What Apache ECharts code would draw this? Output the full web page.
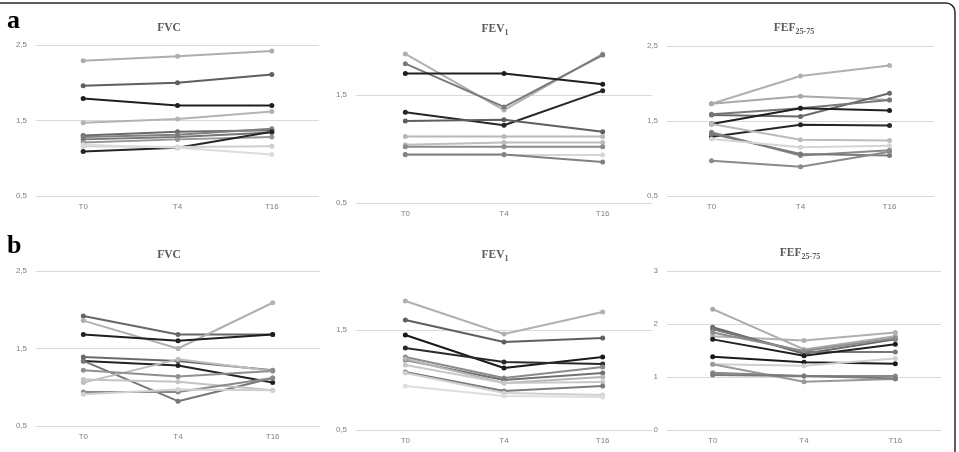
<!DOCTYPE html>
<html>
<head>
<meta charset="utf-8">
<script src="https://cdn.jsdelivr.net/npm/echarts@6/dist/echarts.min.js"></script>
<style>
html,body{margin:0;padding:0;background:#fff;}
#chart{width:959px;height:452px;}
</style>
</head>
<body>
<div id="chart"></div>
<script>
// ---------- DATA ----------
const categories = ['T0', 'T4', 'T16'];

// panel a
const aFVC = [
  [2.29, 2.35, 2.42],
  [1.96, 2.00, 2.11],
  [1.79, 1.70, 1.70],
  [1.47, 1.52, 1.62],
  [1.30, 1.35, 1.37],
  [1.28, 1.31, 1.39],
  [1.25, 1.28, 1.34],
  [1.21, 1.25, 1.28],
  [1.09, 1.14, 1.35],
  [1.16, 1.15, 1.16],
  [1.18, 1.14, 1.05]
];
const aFEV1 = [
  [1.88, 1.36, 1.88],
  [1.79, 1.39, 1.87],
  [1.70, 1.70, 1.60],
  [1.34, 1.22, 1.54],
  [1.26, 1.27, 1.16],
  [1.115, 1.115, 1.115],
  [1.04, 1.06, 1.06],
  [1.02, 1.02, 1.02],
  [0.945, 0.945, 0.945],
  [0.95, 0.95, 0.88]
];
const aFEF = [
  [1.73, 2.10, 2.24],
  [1.73, 1.83, 1.78],
  [1.58, 1.56, 1.87],
  [1.59, 1.67, 1.78],
  [1.46, 1.67, 1.64],
  [1.29, 1.45, 1.44],
  [1.46, 1.25, 1.24],
  [1.35, 1.04, 1.11],
  [1.33, 1.06, 1.04],
  [1.26, 1.15, 1.17],
  [0.97, 0.89, 1.09]
];

// panel b
const bFVC = [
  [1.92, 1.68, 1.68],
  [1.86, 1.50, 2.09],
  [1.68, 1.60, 1.68],
  [1.39, 1.34, 1.22],
  [1.34, 1.28, 1.06],
  [1.34, 0.82, 1.12],
  [1.06, 1.36, 1.21],
  [1.22, 1.14, 1.21],
  [1.10, 1.07, 0.96],
  [0.94, 0.94, 1.12],
  [0.91, 0.97, 0.96]
];
const bFEV1 = [
  [1.79, 1.46, 1.68],
  [1.60, 1.38, 1.42],
  [1.45, 1.12, 1.23],
  [1.32, 1.18, 1.16],
  [1.23, 1.02, 1.13],
  [1.20, 1.00, 1.07],
  [1.21, 0.97, 1.03],
  [1.15, 0.97, 0.98],
  [1.08, 0.89, 0.94],
  [1.07, 0.87, 0.85],
  [0.94, 0.84, 0.83]
];
const bFEF = [
  [2.28, 1.52, 1.77],
  [1.77, 1.69, 1.84],
  [1.94, 1.44, 1.71],
  [1.90, 1.47, 1.47],
  [1.84, 1.49, 1.73],
  [1.71, 1.40, 1.62],
  [1.38, 1.28, 1.25],
  [1.24, 1.21, 1.35],
  [1.24, 0.91, 0.96],
  [1.08, 1.02, 1.02],
  [1.04, 1.02, 0.97]
];

// ---------- STYLES ----------
const colAFVC  = ['#adadad','#5f5f5f','#1f1f1f','#b3b3b3','#6a6a6a','#808080','#767676','#959595','#262626','#cfcfcf','#dcdcdc'];
const colAFEV1 = ['#b0b0b0','#7a7a7a','#1f1f1f','#262626','#5f5f5f','#b8b8b8','#bdbdbd','#8a8a8a','#d6d6d6','#808080'];
const colAFEF  = ['#b0b0b0','#a8a8a8','#6a6a6a','#777777','#1f1f1f','#262626','#bbbbbb','#888888','#7a7a7a','#d5d5d5','#8a8a8a'];
const colBFVC  = ['#666666','#b0b0b0','#1f1f1f','#6a6a6a','#222222','#777777','#bdbdbd','#8f8f8f','#c4c4c4','#8a8a8a','#d0d0d0'];
const colBFEV1 = ['#b0b0b0','#5f5f5f','#1a1a1a','#2a2a2a','#8a8a8a','#707070','#b5b5b5','#c8c8c8','#7a7a7a','#d0d0d0','#dedede'];
const colBFEF  = ['#aaaaaa','#b0b0b0','#666666','#777777','#8c8c8c','#1f1f1f','#1a1a1a','#cfcfcf','#999999','#888888','#7a7a7a'];

const GRID_LINE = '#d9d9d9';
const HIDE = 'rgba(0,0,0,0)';

const panels = [
  {data: aFVC,  colors: colAFVC,  grid: {left: 36,  top: 45,  width: 283, height: 151}, y: {min: 0.5, max: 2.5, interval: 0.5}, half: true,
   title: '{m|FVC}', tx: 169, ty: 20},
  {data: aFEV1, colors: colAFEV1, grid: {left: 356, top: 41,  width: 296, height: 162}, y: {min: 0.5, max: 2.0, interval: 0.5}, half: true,
   title: '{m|FEV}{s|1}', tx: 495, ty: 21},
  {data: aFEF,  colors: colAFEF,  grid: {left: 667, top: 46,  width: 267, height: 150}, y: {min: 0.5, max: 2.5, interval: 0.5}, half: true,
   title: '{m|FEF}{s|25-75}', tx: 794, ty: 20},
  {data: bFVC,  colors: colBFVC,  grid: {left: 36,  top: 271, width: 284, height: 155}, y: {min: 0.5, max: 2.5, interval: 0.5}, half: true,
   title: '{m|FVC}', tx: 169, ty: 247},
  {data: bFEV1, colors: colBFEV1, grid: {left: 356, top: 280, width: 296, height: 150}, y: {min: 0.5, max: 2.0, interval: 0.5}, half: true,
   title: '{m|FEV}{s|1}', tx: 495, ty: 247},
  {data: bFEF,  colors: colBFEF,  grid: {left: 667, top: 271, width: 274, height: 159}, y: {min: 0, max: 3, interval: 1}, half: false,
   title: '{m|FEF}{s|25-75}', tx: 800, ty: 245}
];

const titleRich = {
  m: {fontFamily: 'Liberation Serif', fontWeight: 'bold', fontSize: 11.5, color: '#5a5a5a', lineHeight: 16, verticalAlign: 'middle'},
  s: {fontFamily: 'Liberation Serif', fontWeight: 'bold', fontSize: 8, color: '#5a5a5a', lineHeight: 16, verticalAlign: 'bottom'}
};

const isHalfTick = v => Math.abs((v - 0.5) - Math.round(v - 0.5)) < 1e-6;

const option = {
  animation: false,
  backgroundColor: '#ffffff',
  title: [
    {text: 'a', left: 7, top: 8, padding: 0, textStyle: {fontFamily: 'Liberation Serif', fontWeight: 'bold', fontSize: 26, color: '#000'}},
    {text: 'b', left: 7, top: 233, padding: 0, textStyle: {fontFamily: 'Liberation Serif', fontWeight: 'bold', fontSize: 26, color: '#000'}}
  ].concat(panels.map(p => ({
    text: p.title, left: p.tx, top: p.ty, padding: 0, textAlign: 'center',
    textStyle: {rich: titleRich}
  }))),
  grid: panels.map(p => Object.assign({containLabel: false}, p.grid)),
  xAxis: panels.map((p, i) => ({
    type: 'category', gridIndex: i, data: categories, boundaryGap: true,
    axisLine: {show: false}, axisTick: {show: false}, splitLine: {show: false},
    axisLabel: {color: '#7f7f7f', fontSize: 8, fontFamily: 'Liberation Sans', margin: 7}
  })),
  yAxis: panels.map((p, i) => ({
    type: 'value', gridIndex: i, min: p.y.min, max: p.y.max, interval: p.y.interval,
    axisLine: {show: false}, axisTick: {show: false},
    splitLine: {show: true, lineStyle: {color: p.half ? [GRID_LINE, HIDE] : [GRID_LINE], width: 1}},
    axisLabel: {
      color: '#7f7f7f', fontSize: 8, fontFamily: 'Liberation Sans', margin: 9,
      formatter: v => {
        if (p.half) {
          if (!isHalfTick(v) || v > p.y.max + 1e-9) return '';
          if (p.y.max === 2.0 && v > 1.9) return '';
        }
        return String(v).replace('.', ',');
      }
    }
  })),
  series: [],
  graphic: [
    {type: 'rect', shape: {x: -20, y: 3, width: 975, height: 490, r: 9},
     style: {fill: 'none', stroke: '#2b2b2b', lineWidth: 1.5}, z: 100, silent: true}
  ]
};

panels.forEach((p, i) => {
  p.data.forEach((vals, k) => {
    option.series.push({
      type: 'line', xAxisIndex: i, yAxisIndex: i, data: vals,
      symbol: 'circle', symbolSize: 5, showSymbol: true,
      lineStyle: {color: p.colors[k], width: 2},
      itemStyle: {color: p.colors[k]},
      emphasis: {disabled: true}
    });
  });
});

const chart = echarts.init(document.getElementById('chart'), null, {renderer: 'canvas'});
chart.setOption(option);
</script>
</body>
</html>
